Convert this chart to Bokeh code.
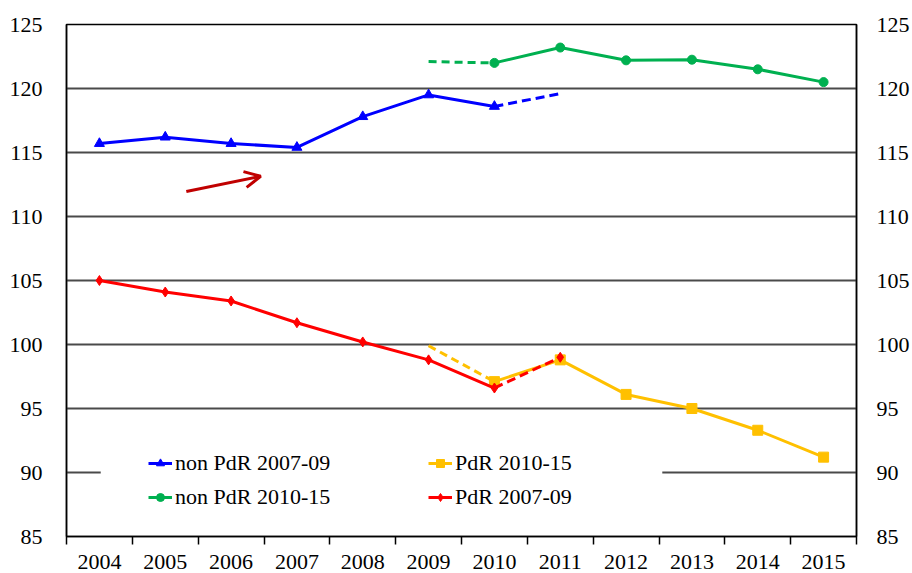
from bokeh.plotting import figure
from bokeh.models import (Range1d, LinearAxis, FixedTicker, Legend, LegendItem,
                          BoxAnnotation, Arrow, OpenHead)
from bokeh.embed import file_html
from bokeh.resources import INLINE

# ---- data ----
years = [2004, 2005, 2006, 2007, 2008, 2009, 2010, 2011, 2012, 2013, 2014, 2015]
y_ticks = [85, 90, 95, 100, 105, 110, 115, 120, 125]

blue_years = [2004, 2005, 2006, 2007, 2008, 2009, 2010]
blue_vals = [115.7, 116.2, 115.7, 115.4, 117.8, 119.5, 118.6]
blue_dash_years = [2010, 2011]
blue_dash_vals = [118.6, 119.6]

green_dash_years = [2009, 2010]
green_dash_vals = [122.1, 122.0]
green_years = [2010, 2011, 2012, 2013, 2014, 2015]
green_vals = [122.0, 123.2, 122.2, 122.25, 121.5, 120.5]

red_years = [2004, 2005, 2006, 2007, 2008, 2009, 2010]
red_vals = [105.0, 104.1, 103.4, 101.7, 100.2, 98.8, 96.6]
red_dash_years = [2010, 2011]
red_dash_vals = [96.6, 99.0]

yellow_dash_years = [2009, 2010]
yellow_dash_vals = [99.9, 97.1]
yellow_years = [2010, 2011, 2012, 2013, 2014, 2015]
yellow_vals = [97.1, 98.8, 96.1, 95.0, 93.3, 91.2]

labels = ["non PdR 2007-09", "non PdR 2010-15", "PdR 2010-15", "PdR 2007-09"]

BLUE = "#0000FF"
GREEN = "#00B050"
RED = "#FF0000"
YELLOW = "#FFC000"
FONT = "'Liberation Serif', 'Times New Roman', serif"
FS = "22px"

p = figure(width=912, height=573, output_backend="svg", toolbar_location=None,
           x_range=Range1d(years[0] - 0.5, years[-1] + 0.5),
           y_range=Range1d(y_ticks[0], y_ticks[-1]),
           min_border_left=66, min_border_right=54, min_border_top=24,
           min_border_bottom=37)
p.background_fill_color = "white"
p.border_fill_color = "white"
p.outline_line_color = "black"
p.outline_line_width = 1.5

# x axis
xt = FixedTicker(ticks=years, minor_ticks=[y - 0.5 for y in years] + [years[-1] + 0.5])
xa = p.xaxis[0]
xa.ticker = xt
xa.major_tick_line_color = None
xa.major_tick_out = 0
xa.major_tick_in = 0
xa.minor_tick_line_color = "black"
xa.minor_tick_line_width = 1.5
xa.minor_tick_out = 8
xa.minor_tick_in = 0
xa.axis_line_color = "black"
xa.axis_line_width = 1.5
xa.major_label_standoff = 10
xa.major_label_text_font = FONT
xa.major_label_text_font_size = FS
xa.major_label_text_color = "black"

# y axes
yt = FixedTicker(ticks=y_ticks)
ya = p.yaxis[0]
ya.ticker = yt
ya.major_tick_out = 0
ya.major_tick_in = 0
ya.minor_tick_line_color = None
ya.axis_line_color = "black"
ya.axis_line_width = 1.5
ya.major_label_standoff = 24
ya.major_label_text_font = FONT
ya.major_label_text_font_size = FS
ya.major_label_text_color = "black"

ra = LinearAxis(ticker=yt)
ra.major_tick_out = 0
ra.major_tick_in = 0
ra.minor_tick_line_color = None
ra.axis_line_color = "black"
ra.axis_line_width = 1.5
ra.major_label_standoff = 20
ra.major_label_text_font = FONT
ra.major_label_text_font_size = FS
ra.major_label_text_color = "black"
p.add_layout(ra, "right")

p.xgrid.visible = False
p.ygrid.ticker = yt
p.ygrid.grid_line_color = "#4a4a4a"
p.ygrid.grid_line_width = 1.8

# mask behind the legend (hides part of the 90 gridline)
mask = BoxAnnotation(left=2004.02, right=2012.55, bottom=89.0, top=91.0,
                     fill_color="white", fill_alpha=1.0, line_alpha=0,
                     level="underlay")
p.add_layout(mask)

LW = 3
DASH = "9 5"

# blue
bl = p.line(blue_years, blue_vals, line_color=BLUE, line_width=LW)
p.line(blue_dash_years, blue_dash_vals, line_color=BLUE, line_width=LW, line_dash=DASH)
bm = p.scatter(blue_years, blue_vals, marker="triangle", size=10,
               fill_color=BLUE, line_color=BLUE)

# green
p.line(green_dash_years, green_dash_vals, line_color=GREEN, line_width=LW, line_dash="8 5")
gl = p.line(green_years, green_vals, line_color=GREEN, line_width=LW)
gm = p.scatter(green_years, green_vals, marker="circle", size=9,
               fill_color=GREEN, line_color=GREEN)

# yellow
p.line(yellow_dash_years, yellow_dash_vals, line_color=YELLOW, line_width=LW, line_dash="8 5")
yl = p.line(yellow_years, yellow_vals, line_color=YELLOW, line_width=LW)
ym = p.scatter(yellow_years, yellow_vals, marker="square", size=10,
               fill_color=YELLOW, line_color=YELLOW)

# red
rl = p.line(red_years, red_vals, line_color=RED, line_width=LW)
p.line(red_dash_years, red_dash_vals, line_color=RED, line_width=LW, line_dash=DASH)
rm = p.scatter(red_years + red_dash_years[1:], red_vals + red_dash_vals[1:],
               marker="diamond", size=10, fill_color=RED, line_color=RED)

# arrow annotation
p.add_layout(Arrow(end=OpenHead(size=16, line_color="#C00000", line_width=3),
                   line_color="#C00000", line_width=3,
                   x_start=2005.32, y_start=111.96, x_end=2006.45, y_end=113.14))

legend = Legend(items=[
    LegendItem(label=labels[0], renderers=[bl, bm]),
    LegendItem(label=labels[1], renderers=[gl, gm]),
    LegendItem(label=labels[2], renderers=[yl, ym]),
    LegendItem(label=labels[3], renderers=[rl, rm]),
], ncols=2, location=(82, 26))
legend.background_fill_alpha = 0
legend.border_line_alpha = 0
legend.padding = 0
legend.margin = 0
legend.spacing = 8
legend.glyph_width = 24
legend.glyph_height = 20
legend.label_standoff = 3
legend.label_width = 245
legend.label_text_font = FONT
legend.label_text_font_size = FS
legend.label_text_color = "black"
p.add_layout(legend, "center")

open("out.html", "w").write(file_html(p, INLINE))
